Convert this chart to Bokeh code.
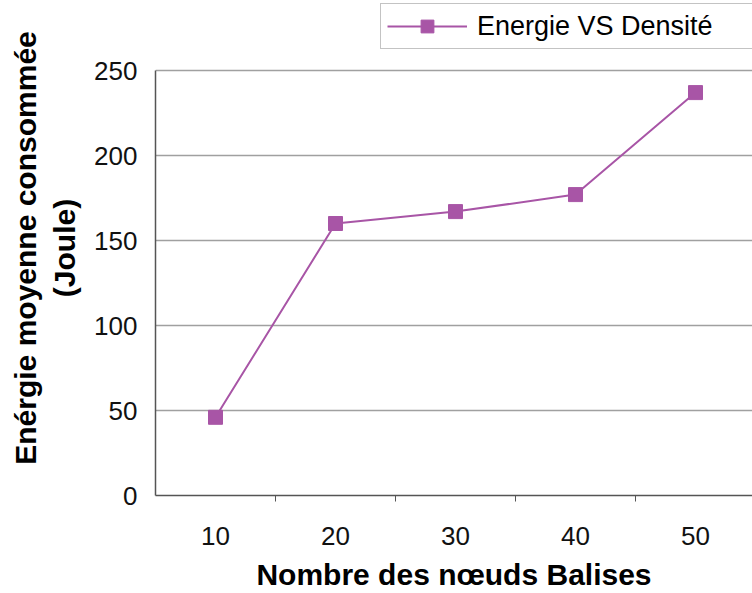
from bokeh.plotting import figure
from bokeh.models import Range1d, FixedTicker, Legend, LegendItem
from bokeh.embed import file_html
from bokeh.resources import INLINE

# Data
nodes = [10, 20, 30, 40, 50]
energy = [46, 160, 167, 177, 237]
series_name = "Energie VS Densité"
x_title = "Nombre des nœuds Balises"
y_title = "Enérgie moyenne consommée\n(Joule)"
y_ticks = [0, 50, 100, 150, 200, 250]
x_boundaries = [15, 25, 35, 45]
y_max = 250

purple = "#a855a6"
font = "Liberation Sans"

# frame spans the full canvas height above the x axis; the part above 250
# holds the legend, as in the reference
frame_h = 495
plot_h = 425
y_top = y_max * frame_h / plot_h

p = figure(width=752, height=593, output_backend="svg", toolbar_location=None,
           x_range=Range1d(5, 54.75), y_range=Range1d(0, y_top),
           min_border_left=155, min_border_right=0, min_border_top=0,
           min_border_bottom=98)

r_line = p.line(nodes, energy, line_color=purple, line_width=2)
r_mark = p.scatter(nodes, energy, marker="square", size=14,
                   fill_color=purple, line_color=purple)

# axes
p.xaxis.ticker = FixedTicker(ticks=nodes, minor_ticks=x_boundaries)
p.xaxis.major_tick_out = 0
p.xaxis.major_tick_in = 0
p.xaxis.minor_tick_out = 6
p.xaxis.minor_tick_in = 0
p.xaxis.minor_tick_line_color = "#555555"
p.xaxis.major_label_standoff = 25
p.xaxis.axis_label = x_title
p.xaxis.axis_label_standoff = 10

p.yaxis.ticker = FixedTicker(ticks=y_ticks)
p.yaxis.bounds = (0, y_max)
p.yaxis.minor_tick_line_color = None
p.yaxis.major_tick_out = 7
p.yaxis.major_tick_in = 0
p.yaxis.major_label_standoff = 11
p.yaxis.axis_label = y_title
p.yaxis.axis_label_standoff = 10

for ax in (p.xaxis, p.yaxis):
    ax.axis_line_color = "#555555"
    ax.axis_line_width = 1.5
    ax.major_tick_line_color = "#555555" if ax is p.yaxis else None
    ax.major_label_text_font = font
    ax.major_label_text_font_size = "26px"
    ax.major_label_text_color = "#111111"
    ax.axis_label_text_font = font
    ax.axis_label_text_font_size = "30px"
    ax.axis_label_text_font_style = "bold"
    ax.axis_label_text_color = "#000000"

p.xgrid.grid_line_color = None
p.ygrid.grid_line_color = "#a0a0a0"
p.ygrid.grid_line_width = 1.5
p.ygrid.ticker = FixedTicker(ticks=y_ticks)

p.outline_line_color = None
p.background_fill_color = "white"
p.border_fill_color = "white"

legend = Legend(items=[LegendItem(label=series_name, renderers=[r_line, r_mark])],
                location=(225, 446), orientation="vertical",
                glyph_width=80, glyph_height=32, label_standoff=10,
                label_width=285,
                padding=6, margin=0, border_line_color="#888888",
                border_line_width=1.5,
                label_text_font=font, label_text_font_size="27px",
                label_text_color="#000000", background_fill_alpha=1.0)
p.add_layout(legend, "center")

open("out.html", "w").write(file_html(p, INLINE))
